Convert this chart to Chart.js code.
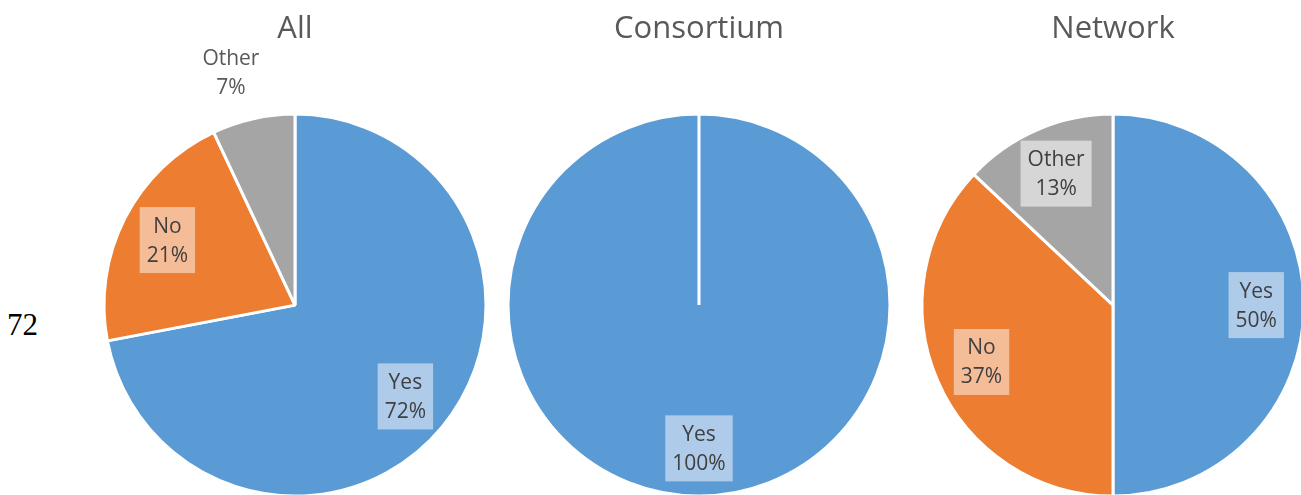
<!DOCTYPE html>
<html>
<head>
<meta charset="utf-8">
<script src="https://cdn.jsdelivr.net/npm/chart.js@4.4.1/dist/chart.umd.min.js"></script>
<style>
  html, body { margin: 0; padding: 0; background: #fff; }
  #wrap { position: relative; width: 1301px; height: 495px; overflow: hidden; }
  #wrap canvas { position: absolute; top: 0; }
  #stray { position: absolute; left: 7px; top: 309px; font: 31px "Liberation Serif", serif; line-height: 31px; color: #000; }
</style>
</head>
<body>
<div id="wrap">
  <div id="stray">72</div>
  <canvas id="allChart" width="400" height="555" style="left:95px"></canvas>
  <canvas id="consortiumChart" width="400" height="555" style="left:499px"></canvas>
  <canvas id="networkChart" width="400" height="555" style="left:913px"></canvas>
</div>
<script>
// data
const categories = ["Yes", "No", "Other"];
const allValues = [72, 21, 7];
const consortiumValues = [100, 0, 0];
const networkValues = [50, 37, 13];

const sliceColors = ["#5B9BD5", "#ED7D31", "#A5A5A5"];
const boxColors = ["#AFCBEA", "#F5BC98", "#D6D6D6"];

// draws "Yes\n72%" style labels on each slice, small slices get theirs outside
const sliceLabels = {
  id: "sliceLabels",
  afterDatasetsDraw(chart) {
    const ctx = chart.ctx;
    const ds = chart.data.datasets[0];
    const total = ds.data.reduce((a, b) => a + b, 0);
    const meta = chart.getDatasetMeta(0);
    ctx.save();
    ctx.font = '21px "Open Sans"';
    ctx.textAlign = "center";
    ctx.textBaseline = "middle";
    meta.data.forEach((arc, i) => {
      const v = ds.data[i];
      if (!v) return;
      const share = v / total;
      const p = arc.getProps(["x", "y", "startAngle", "endAngle", "outerRadius"], true);
      const mid = (p.startAngle + p.endAngle) / 2;
      const outside = share < 0.1;
      const dist = p.outerRadius * (outside ? 1.25 : 0.75);
      const cx = p.x + Math.cos(mid) * dist - (outside ? 12 : 0);
      const cy = p.y + Math.sin(mid) * dist;
      const lines = [chart.data.labels[i], Math.round(share * 100) + "%"];
      const lh = 29;
      if (!outside) {
        const w = Math.max(...lines.map(t => ctx.measureText(t).width)) + 14;
        const h = 66;
        ctx.fillStyle = boxColors[i];
        ctx.fillRect(cx - w / 2, cy - h / 2, w, h);
      }
      ctx.fillStyle = outside ? "#595959" : "#404040";
      lines.forEach((t, k) => ctx.fillText(t, cx, cy + 1 + (k - 0.5) * lh));
    });
    ctx.restore();
  }
};

const makePie = (id, title, values) => {
  const ctx = document.getElementById(id).getContext("2d");
  return new Chart(ctx, {
    type: "pie",
    data: {
      labels: categories,
      datasets: [{
        data: values,
        backgroundColor: sliceColors,
        borderColor: "#ffffff",
        borderWidth: 3,
        radius: 191
      }]
    },
    options: {
      responsive: false,
      animation: false,
      layout: { padding: 0 },
      plugins: {
        legend: { display: false },
        tooltip: { enabled: false },
        title: {
          display: true,
          text: title,
          color: "#595959",
          font: { family: "Open Sans", size: 31, weight: "normal" },
          padding: { top: 11, bottom: 7 }
        }
      }
    },
    plugins: [sliceLabels]
  });
};

makePie("allChart", "All", allValues);
makePie("consortiumChart", "Consortium", consortiumValues);
makePie("networkChart", "Network", networkValues);
</script>
</body>
</html>
